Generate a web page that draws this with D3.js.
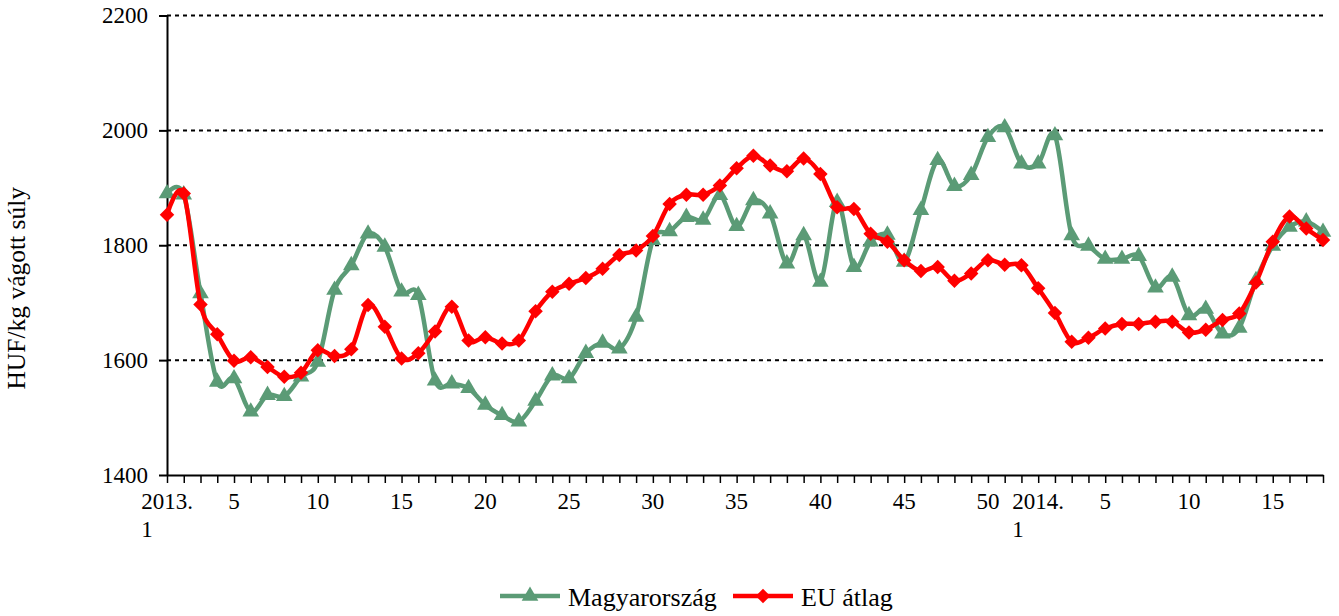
<!DOCTYPE html>
<html>
<head>
<meta charset="utf-8">
<script src="https://cdn.jsdelivr.net/npm/d3@7"></script>
<style>
  body { margin: 0; background: #fff; }
  text { font-family: "Liberation Serif", "Times New Roman", serif; fill: #000; }
</style>
</head>
<body>
<div id="chart"></div>
<script>
// weeks: 2013 week 1..52, then 2014 week 1..18
var weeks = [];
for (var i = 1; i <= 52; i++) weeks.push("2013-" + i);
for (var i = 1; i <= 18; i++) weeks.push("2014-" + i);

// tick labels shown under the axis (index -> lines)
var tickLabels = {
  0: ["2013.", "1"], 4: ["5"], 9: ["10"], 14: ["15"], 19: ["20"], 24: ["25"],
  29: ["30"], 34: ["35"], 39: ["40"], 44: ["45"], 49: ["50"],
  52: ["2014.", "1"], 56: ["5"], 61: ["10"], 66: ["15"]
};

var yTicks = [1400, 1600, 1800, 2000, 2200];

// HUF/kg vágott súly
var huPrices = [1890,1888,1716,1562,1568,1510,1539,1537,1571,1597,
                1722,1765,1820,1797,1719,1713,1564,1559,1551,1522,
                1504,1493,1529,1573,1568,1612,1630,1620,1675,1809,
                1824,1849,1844,1887,1833,1878,1855,1768,1817,1736,
                1875,1762,1806,1818,1771,1861,1948,1903,1922,1988,
                2005,1942,1942,1991,1817,1799,1776,1776,1781,1726,
                1745,1678,1689,1646,1656,1739,1799,1832,1841,1823];

var euPrices = [1853,1890,1697,1645,1599,1605,1588,1571,1578,1617,
                1607,1619,1696,1658,1603,1612,1650,1693,1634,1640,
                1629,1634,1685,1719,1733,1743,1759,1783,1791,1816,
                1872,1888,1888,1904,1934,1956,1939,1929,1951,1924,
                1866,1863,1820,1806,1774,1755,1762,1738,1751,1774,
                1766,1765,1725,1682,1632,1639,1655,1663,1663,1667,
                1667,1648,1653,1670,1681,1735,1806,1850,1829,1809];

var seriesNames = ["Magyarország", "EU átlag"];

var W = 1339, H = 616;
var margin = { top: 15.5, right: 16, bottom: 141, left: 167 };
var width = W - margin.left - margin.right,
    height = H - margin.top - margin.bottom;

var svg = d3.select("#chart")
    .append("svg")
    .attr("width", W)
    .attr("height", H)
    .append("g")
    .attr("transform", "translate(" + margin.left + "," + margin.top + ")");

var x = d3.scalePoint()
    .domain(weeks)
    .range([0, width]);

var y = d3.scaleLinear()
    .domain([1400, 2200])
    .range([height, 0]);

// gridlines
svg.selectAll(".grid")
    .data(yTicks.slice(1))
    .enter()
    .append("line")
    .attr("x1", 0)
    .attr("x2", width)
    .attr("y1", function (d) { return y(d) })
    .attr("y2", function (d) { return y(d) })
    .attr("stroke", "#000")
    .attr("stroke-width", 2)
    .attr("stroke-dasharray", "4,4");

// Y axis
var yAxis = svg.append("g")
    .call(d3.axisLeft(y).tickValues(yTicks).tickFormat(d3.format("d"))
        .tickSize(8).tickPadding(11).tickSizeOuter(0));
yAxis.select(".domain").attr("stroke-width", 2);
yAxis.selectAll(".tick line").attr("stroke-width", 2);
yAxis.selectAll(".tick text")
    .style("font-family", "'Liberation Serif', serif")
    .style("font-size", "23px")
    .attr("fill", "#000");

// X axis
var xAxis = svg.append("g")
    .attr("transform", "translate(0," + height + ")")
    .call(d3.axisBottom(x).tickSize(8).tickSizeOuter(0).tickFormat(""));
xAxis.select(".domain").attr("stroke-width", 2);
xAxis.selectAll(".tick line").attr("stroke-width", 1.5);

Object.keys(tickLabels).forEach(function (k) {
    var lines = tickLabels[k];
    var cx = x(weeks[+k]);
    var t = svg.append("text")
        .attr("x", cx)
        .attr("y", height + 34)
        .attr("text-anchor", "middle")
        .style("font-size", "23px")
        .text(lines[0]);
    if (lines.length > 1) {
        // two-line label, left aligned, first line centred on tick
        var bw = t.node().getComputedTextLength();
        svg.append("text")
            .attr("x", cx - bw / 2)
            .attr("y", height + 62)
            .style("font-size", "23px")
            .text(lines[1]);
    }
});

// Y title
svg.append("text")
    .attr("transform", "translate(" + (-142) + "," + (height / 2 + 43) + ") rotate(-90)")
    .attr("text-anchor", "middle")
    .style("font-size", "25.5px")
    .text("HUF/kg vágott súly");

var line = d3.line()
    .x(function (d, i) { return x(weeks[i]) })
    .y(function (d) { return y(d) })
    .curve(d3.curveCardinal.tension(0));

var green = "#5b9b76", red = "#ff0000";

var triangle = d3.symbol().type(d3.symbolTriangle).size(120);
var diamond = d3.symbol().type(d3.symbolSquare).size(105);

// Magyarország
svg.append("path")
    .datum(huPrices)
    .attr("fill", "none")
    .attr("stroke", green)
    .attr("stroke-width", 4.5)
    .attr("d", line);

svg.selectAll(".hu")
    .data(huPrices)
    .enter()
    .append("path")
    .attr("d", triangle)
    .attr("fill", green)
    .attr("transform", function (d, i) { return "translate(" + x(weeks[i]) + "," + y(d) + ")" });

// EU átlag
svg.append("path")
    .datum(euPrices)
    .attr("fill", "none")
    .attr("stroke", red)
    .attr("stroke-width", 4.5)
    .attr("d", line);

svg.selectAll(".eu")
    .data(euPrices)
    .enter()
    .append("path")
    .attr("d", diamond)
    .attr("fill", red)
    .attr("transform", function (d, i) { return "translate(" + x(weeks[i]) + "," + y(d) + ") rotate(45)" });

// legend
var legend = d3.select("svg").append("g");
var legendItems = [
    { name: seriesNames[0], color: green, sym: triangle, rot: 0, x0: 500 },
    { name: seriesNames[1], color: red, sym: diamond, rot: 45, x0: 733 }
];
legendItems.forEach(function (d) {
    legend.append("line")
        .attr("x1", d.x0).attr("x2", d.x0 + 60)
        .attr("y1", 596).attr("y2", 596)
        .attr("stroke", d.color)
        .attr("stroke-width", 4.5);
    legend.append("path")
        .attr("d", d.sym)
        .attr("fill", d.color)
        .attr("transform", "translate(" + (d.x0 + 30) + ",596) rotate(" + d.rot + ")");
    legend.append("text")
        .attr("x", d.x0 + 68)
        .attr("y", 606)
        .style("font-size", "26px")
        .text(d.name);
});
</script>
</body>
</html>
